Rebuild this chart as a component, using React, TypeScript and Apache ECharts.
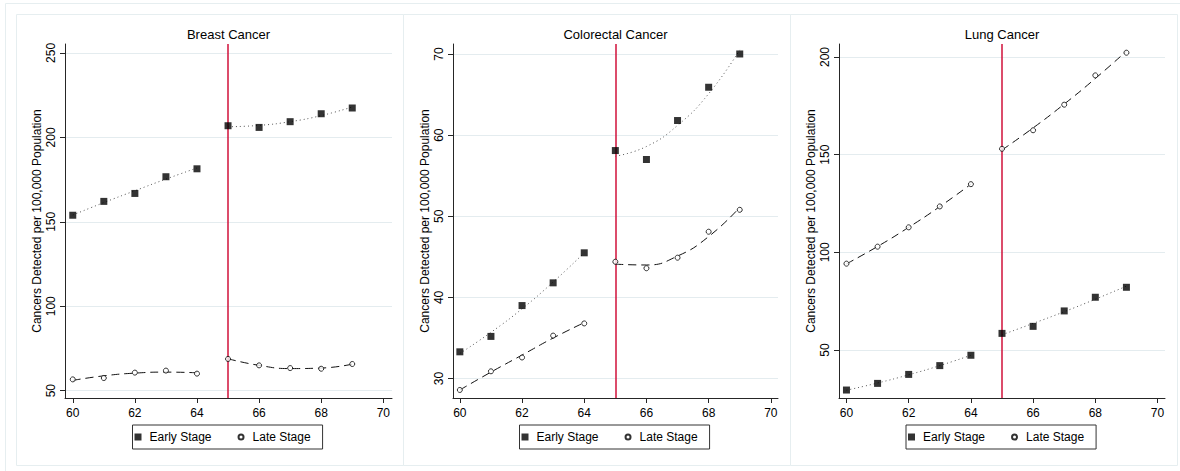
import React, { useEffect, useRef } from 'react';
import * as echarts from 'echarts';

// ---------------- data ----------------
const years = [60, 61, 62, 63, 64, 65, 66, 67, 68, 69];
const cutoff = 65;
const xTicks = [60, 62, 64, 66, 68, 70];

const breastEarly = [153.9, 162.1, 166.8, 176.7, 181.4, 206.9, 205.9, 209.3, 214.0, 217.4];
const breastLate = [56.7, 57.5, 60.7, 61.9, 60.1, 68.8, 65.0, 63.4, 63.0, 65.8];
const breastEarlyFit = [154.0, 161.4, 168.4, 175.3, 181.9, 206.3, 207.1, 209.3, 212.9, 218.0];
const breastLateFit = [56.1, 58.8, 60.4, 61.0, 60.6, 68.9, 65.0, 63.1, 63.4, 65.7];
const breastYTicks = [50, 100, 150, 200, 250];

const colorectalEarly = [33.3, 35.2, 39.0, 41.8, 45.5, 58.1, 57.0, 61.8, 65.9, 70.0];
const colorectalLate = [28.6, 30.9, 32.6, 35.3, 36.8, 44.4, 43.6, 44.9, 48.1, 50.8];
const colorectalEarlyFit = [33.1, 35.7, 38.6, 41.9, 45.5, 57.4, 58.6, 61.2, 65.1, 70.5];
const colorectalLateFit = [28.6, 30.8, 32.9, 35.0, 36.9, 44.1, 44.0, 45.1, 47.5, 51.1];
const colorectalYTicks = [30, 40, 50, 60, 70];

const lungEarly = [29.5, 32.9, 37.5, 42.0, 47.3, 58.5, 62.1, 70.0, 77.0, 82.1];
const lungLate = [94.2, 102.9, 112.8, 123.5, 134.9, 153.0, 162.5, 175.6, 190.6, 202.2];
const lungEarlyFit = [29.4, 33.1, 37.3, 42.0, 47.3, 57.8, 63.6, 69.6, 76.0, 82.7];
const lungLateFit = [94.1, 103.0, 112.8, 123.4, 134.9, 152.4, 163.7, 175.9, 189.0, 203.0];
const lungYTicks = [50, 100, 150, 200];

const panelTitles = ['Breast Cancer', 'Colorectal Cancer', 'Lung Cancer'];
const seriesNames = ['Early Stage', 'Late Stage'];
const yAxisTitle = 'Cancers Detected per 100,000 Population';

// ---------------- layout / style ----------------
const FONT = '"Liberation Sans", Arial, Helvetica, sans-serif';
const RED = '#d0103a';
const AXIS = '#262626';
const GRIDLINE = '#e4ecef';
const FRAME = '#e6eef0';

const panels = [
  {
    title: panelTitles[0], early: breastEarly, late: breastLate, earlyFit: breastEarlyFit, lateFit: breastLateFit,
    yTicks: breastYTicks, grid: { left: 65, top: 44, width: 327, height: 354 },
    xRange: [59.75, 70.28], yRange: [45.67, 255.3], boxX: 16, boxW: 387,
  },
  {
    title: panelTitles[1], early: colorectalEarly, late: colorectalLate, earlyFit: colorectalEarlyFit, lateFit: colorectalLateFit,
    yTicks: colorectalYTicks, grid: { left: 453, top: 44, width: 325, height: 354 },
    xRange: [59.78, 70.23], yRange: [27.61, 71.23], boxX: 403, boxW: 387,
  },
  {
    title: panelTitles[2], early: lungEarly, late: lungLate, earlyFit: lungEarlyFit, lateFit: lungLateFit,
    yTicks: lungYTicks, grid: { left: 839, top: 44, width: 326, height: 354 },
    xRange: [59.76, 70.24], yRange: [25.42, 206.66], boxX: 790, boxW: 387,
  },
];

const SQUARE_ICON = 'path://M0,0H10V10H0Z';
const CIRCLE_ICON = 'path://M0,0M14,14M12,7A5,5,0,1,1,2,7A5,5,0,1,1,12,7Z';

const pairs = (vals: number[], from: number, to: number) =>
  years.slice(from, to).map((x, k) => [x, vals[from + k]]);

function buildOption() {
  const series: any[] = [];
  panels.forEach((p, i) => {
    const fitLine = (name: string, data: number[][], dotted: boolean, withCut: boolean) => {
      const s: any = {
        name, type: 'line', xAxisIndex: i, yAxisIndex: i, data, smooth: true, showSymbol: false,
        symbol: 'none', silent: true, z: 2,
        lineStyle: dotted
          ? { color: '#555', width: 1, type: [1, 3] }
          : { color: '#111', width: 1, type: [8, 5] },
      };
      if (withCut) {
        s.markLine = {
          silent: true, symbol: ['none', 'none'], z: 2, label: { show: false },
          lineStyle: { color: RED, width: 1.5, type: 'solid' },
          emphasis: { disabled: true },
          data: [{ xAxis: cutoff }],
        };
      }
      return s;
    };
    series.push(fitLine('earlyFitPre' + i, pairs(p.earlyFit, 0, 5), true, true));
    series.push(fitLine('earlyFitPost' + i, pairs(p.earlyFit, 5, 10), true, false));
    series.push(fitLine('lateFitPre' + i, pairs(p.lateFit, 0, 5), false, false));
    series.push(fitLine('lateFitPost' + i, pairs(p.lateFit, 5, 10), false, false));
    series.push({
      name: seriesNames[0], type: 'scatter', xAxisIndex: i, yAxisIndex: i, z: 3,
      symbol: 'rect', symbolSize: 7, itemStyle: { color: '#000' },
      data: pairs(p.early, 0, 10),
    });
    series.push({
      name: seriesNames[1], type: 'scatter', xAxisIndex: i, yAxisIndex: i, z: 3,
      symbol: 'circle', symbolSize: 5,
      itemStyle: { color: '#fff', borderColor: '#000', borderWidth: 1 },
      data: pairs(p.late, 0, 10),
    });
  });

  return {
    animation: false,
    backgroundColor: '#fff',
    textStyle: { fontFamily: FONT },
    title: panels.map((p) => ({
      text: p.title,
      left: p.grid.left + p.grid.width / 2,
      top: 28,
      textAlign: 'center',
      padding: 0,
      textStyle: { fontSize: 13, fontWeight: 'normal', color: '#000', fontFamily: FONT },
    })),
    legend: panels.map((p) => ({
      left: p.grid.left + p.grid.width / 2 - 96,
      top: 425,
      orient: 'horizontal',
      padding: [6, 12, 6, 2],
      itemWidth: 13,
      itemHeight: 7,
      itemGap: 25,
      borderColor: '#333',
      borderWidth: 1,
      backgroundColor: '#fff',
      selectedMode: false,
      textStyle: { fontSize: 12, color: '#000', fontFamily: FONT },
      data: [
        { name: seriesNames[0], icon: SQUARE_ICON },
        { name: seriesNames[1], icon: CIRCLE_ICON, itemStyle: { borderWidth: 2 } },
      ],
    })),
    grid: panels.map((p) => ({ ...p.grid, containLabel: false, outerBoundsMode: 'none' })),
    xAxis: panels.map((p, i) => ({
      type: 'value', gridIndex: i, min: p.xRange[0], max: p.xRange[1],
      axisLine: { show: true, onZero: false, lineStyle: { color: AXIS, width: 1 } },
      axisTick: { show: true, customValues: xTicks, length: 5, lineStyle: { color: AXIS } },
      axisLabel: { customValues: xTicks, margin: 9, fontSize: 12, color: '#000', fontFamily: FONT },
      splitLine: { show: false },
    })),
    yAxis: panels.map((p, i) => ({
      type: 'value', gridIndex: i, min: p.yRange[0], max: p.yRange[1],
      name: yAxisTitle, nameLocation: 'middle', nameGap: 22, nameRotate: 90,
      nameTextStyle: { fontSize: 12, color: '#000', fontFamily: FONT },
      axisLine: { show: true, onZero: false, lineStyle: { color: AXIS, width: 1 } },
      axisTick: { show: true, customValues: p.yTicks, length: 5, lineStyle: { color: AXIS } },
      axisLabel: { customValues: p.yTicks, rotate: 90, margin: 8, fontSize: 12, color: '#000', fontFamily: FONT },
      splitLine: { show: true, lineStyle: { color: GRIDLINE, width: 1 } },
    })),
    graphic: [
      {
        type: 'rect', silent: true, z: -10,
        shape: { x: 5.5, y: 3.5, width: 1200, height: 500 },
        style: { fill: 'none', stroke: FRAME, lineWidth: 1 },
      },
      ...panels.map((p) => ({
        type: 'rect', silent: true, z: -10,
        shape: { x: p.boxX + 0.5, y: 14.5, width: p.boxW, height: 451 },
        style: { fill: 'none', stroke: FRAME, lineWidth: 1 },
      })),
    ],
    series,
  };
}

export default function App() {
  const ref = useRef<HTMLDivElement>(null);
  useEffect(() => {
    document.body.style.margin = '0';
    if (!ref.current) return;
    const chart = echarts.init(ref.current, undefined, { renderer: 'svg' });
    chart.setOption(buildOption() as any);
    return () => chart.dispose();
  }, []);
  return <div ref={ref} style={{ width: 1180, height: 471, position: 'absolute', left: 0, top: 0 }} />;
}
